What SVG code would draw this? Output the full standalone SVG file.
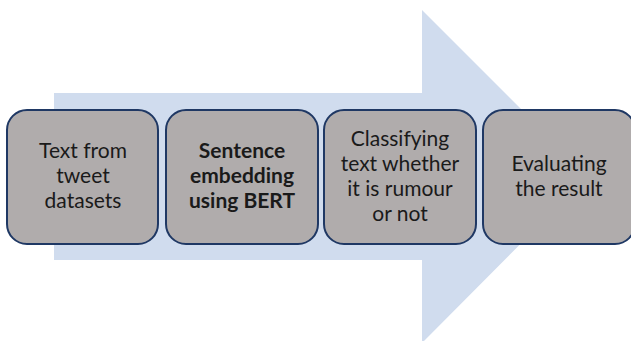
<svg xmlns="http://www.w3.org/2000/svg" width="631" height="341" viewBox="0 0 631 341">
<style>
.box{fill:#b0acac;stroke:#1f3864;stroke-width:2}
.t{font-family:Lato,"Liberation Sans",sans-serif;font-size:21px;fill:#1a1a1a;text-anchor:middle}
.b{font-weight:bold}
</style>
<rect width="631" height="341" fill="#ffffff"/>
<polygon id="arrow" points="54,93 422,93 422,10 588,176 422,343 422,260 54,260" fill="#d0dcee"/>
<g id="n1"><rect class="box" x="7" y="110" width="151" height="134" rx="20"/>
<text class="t" x="83" y="158">Text from</text><text class="t" x="83" y="183">tweet</text><text class="t" x="83" y="208">datasets</text></g>
<g id="n2"><rect class="box" x="166" y="110" width="152" height="134" rx="20"/>
<text class="t b" x="242" y="158">Sentence</text><text class="t b" x="242" y="183">embedding</text><text class="t b" x="242" y="208">using BERT</text></g>
<g id="n3"><rect class="box" x="324" y="110" width="152" height="134" rx="20"/>
<text class="t" x="400" y="146">Classifying</text><text class="t" x="400" y="171">text whether</text><text class="t" x="400" y="196">it is rumour</text><text class="t" x="400" y="221">or not</text></g>
<g id="n4"><rect class="box" x="483" y="110" width="152" height="134" rx="20"/>
<text class="t" x="559" y="171">Evaluating</text><text class="t" x="559" y="196">the result</text></g>
<g id="connectors"></g>
</svg>
